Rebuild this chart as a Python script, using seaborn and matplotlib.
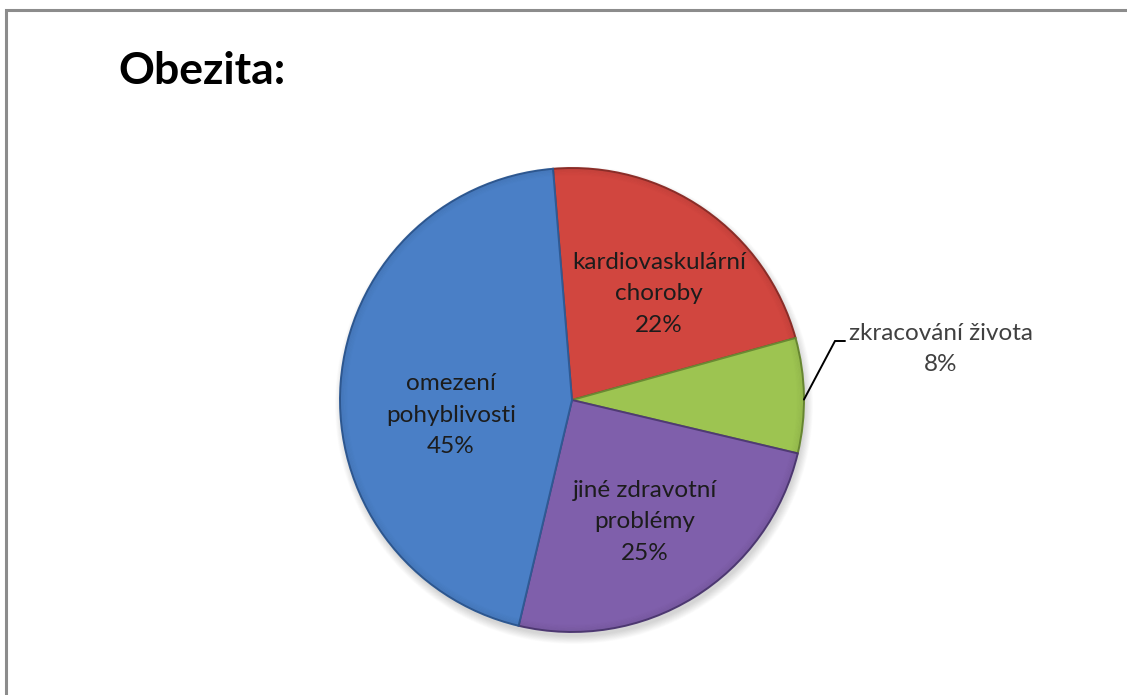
import numpy as np
import matplotlib
matplotlib.use("Agg")
import matplotlib.pyplot as plt
import seaborn as sns
from matplotlib.patches import Circle, Rectangle, Wedge

# Obesity consequences (share of answers)
categories = ["kardiovaskulární\nchoroby", "zkracování života",
              "jiné zdravotní\nproblémy", "omezení\npohyblivosti"]
shares = [22, 8, 25, 45]
colors = ["#D1463F", "#9DC451", "#7F5FAB", "#4A7FC6"]
edge_colors = ["#8E2F2A", "#6A8A33", "#4F3A74", "#2F5A94"]
title = "Obezita:"

sns.set_theme(style="white")
plt.rcParams["font.family"] = ["Lato", "DejaVu Sans"]

W, H = 1127, 695
fig = plt.figure(figsize=(W / 100, H / 100), dpi=100)
ax = fig.add_axes([0, 0, 1, 1])

# outer frame (runs off the right and bottom edges)
fig.patches.append(Rectangle((6 / W, -0.05), 1.2, (H - 10) / H + 0.05,
                             transform=fig.transFigure, fill=False,
                             edgecolor="#8C8C8C", linewidth=2.2))

cx, cy, r = 572, H - 400, 232
start = 94.7

# soft drop shadow under the pie
for k in range(14):
    ax.add_patch(Circle((cx + 2, cy - 5), r + 7 - k * 0.6,
                        facecolor="#000000", alpha=0.012, edgecolor="none",
                        zorder=1))

wedges, _ = ax.pie(shares, colors=colors, startangle=start, counterclock=False,
                   center=(cx, cy), radius=r, frame=True,
                   wedgeprops=dict(linewidth=1.4, zorder=3))
for w, ec in zip(wedges, edge_colors):
    w.set_edgecolor(ec)

# bevel: a darker rim along the outer edge of every slice
for w in wedges:
    for k in range(6):
        ax.add_patch(Wedge((cx, cy), r - k * 1.2, w.theta1, w.theta2,
                           width=1.4, facecolor="#000000", alpha=0.05 * (6 - k) / 6,
                           edgecolor="none", zorder=4))

ax.set_xlim(0, W)
ax.set_ylim(0, H)
ax.set_aspect("equal")
ax.axis("off")

fs = 17.5
ls = 1.62
# slice labels
label_pos = {
    0: (659, 294),
    2: (645, 522),
    3: (451, 415),
}
for i, (x, y) in label_pos.items():
    ax.text(x, H - y, f"{categories[i]}\n{shares[i]}%", ha="center", va="center",
            fontsize=fs, color="#1C1C1C", linespacing=ls, zorder=5)

# outside label with leader line for the small slice
theta = np.deg2rad(start - (shares[0] + shares[1] / 2) / 100 * 360)
px, py = cx + r * np.cos(theta), cy + r * np.sin(theta)
ax.plot([px, 835, 845], [py - 4, H - 341, H - 341], color="#000000",
        linewidth=1.4, zorder=5, solid_joinstyle="miter")
ax.text(941, H - 349, f"{categories[1]}\n{shares[1]}%", ha="center", va="center",
        fontsize=fs, color="#404040", linespacing=1.6, zorder=5)

ax.text(202, H - 71, title, ha="center", va="center", fontsize=32,
        fontweight="bold", color="#000000")

fig.savefig("out.png", dpi=100, facecolor="white")
